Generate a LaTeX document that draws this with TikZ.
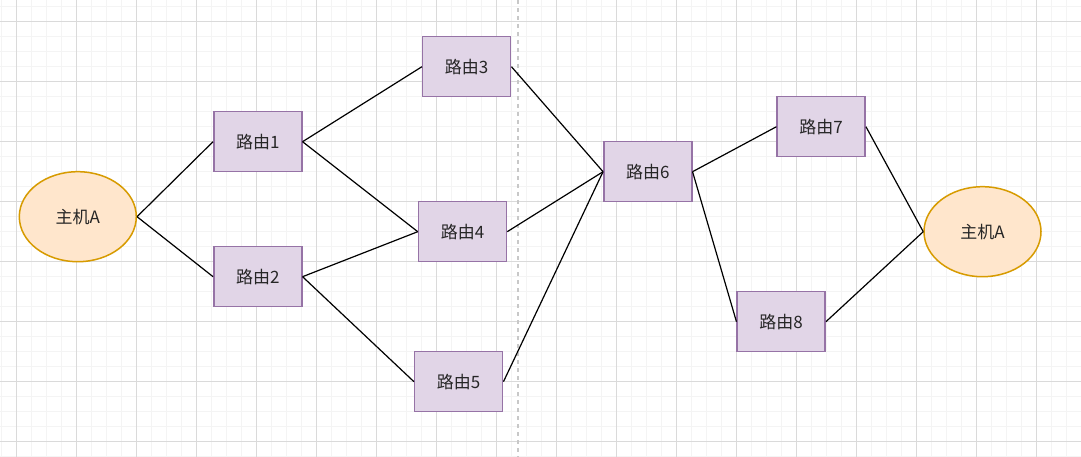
\documentclass[tikz,border=0pt]{standalone}
\usepackage{fontspec}
\newfontfamily\cjk{Noto Sans CJK SC}
\usetikzlibrary{shapes.geometric}
\definecolor{routerfill}{HTML}{E1D5E7}
\definecolor{routerline}{HTML}{9673A6}
\definecolor{hostfill}{HTML}{FFE6CC}
\definecolor{hostline}{HTML}{D79B00}
\definecolor{minorgrid}{HTML}{F4F4F4}
\definecolor{majorgrid}{HTML}{DADADA}
\definecolor{splitline}{HTML}{C8C8C8}
\tikzset{
  router/.style={rectangle,draw=routerline,fill=routerfill,line width=1.5pt,
    minimum width=88pt,minimum height=60pt,inner sep=0pt},
  host/.style={ellipse,draw=hostline,fill=hostfill,line width=1.5pt,
    minimum width=117pt,minimum height=90pt,inner sep=0pt},
  link/.style={black,line width=1.2pt}
}
\begin{document}
\begin{tikzpicture}[x=1pt,y=-1pt,every node/.style={font=\cjk\fontsize{17}{19}\selectfont,text=black!85}]
\useasboundingbox[fill=white] (0,0) rectangle (1081,457);
% background grid
\begin{scope}
\clip (0,0) rectangle (1081,457);
\foreach \i in {0,...,72} \draw[minorgrid,line width=1pt] ({1.7+15*\i},0) -- ({1.7+15*\i},457);
\foreach \j in {0,...,30} \draw[minorgrid,line width=1pt] (0,{6.7+15*\j}) -- (1081,{6.7+15*\j});
\foreach \i in {0,...,17} \draw[majorgrid,line width=1pt] ({16.7+60*\i},0) -- ({16.7+60*\i},457);
\foreach \j in {0,...,7} \draw[majorgrid,line width=1pt] (0,{21.7+60*\j}) -- (1081,{21.7+60*\j});
\end{scope}
\coordinate (splittop) at (518,0);
\coordinate (splitbot) at (518,457);
\draw[splitline,line width=1.5pt,dash pattern=on 4pt off 4pt] (splittop) -- (splitbot);
% hosts and routers
\node[host] (hostA) at (77.8,216.7) {主机A};
\node[router] (r1) at (257.8,141.7) {路由1};
\node[router] (r2) at (257.8,276.7) {路由2};
\node[router] (r3) at (466.7,66.7) {路由3};
\node[router] (r4) at (462.5,231.7) {路由4};
\node[router] (r5) at (458.7,381.7) {路由5};
\node[router] (r6) at (647.8,171.7) {路由6};
\node[router] (r7) at (821.2,126.7) {路由7};
\node[router] (r8) at (781.2,321.7) {路由8};
\node[host] (hostB) at (982.5,231.7) {主机A};
% links
\draw[link] (hostA.east) -- (r1.west);
\draw[link] (hostA.east) -- (r2.west);
\draw[link] (r1.east) -- (r3.west);
\draw[link] (r1.east) -- (r4.west);
\draw[link] (r2.east) -- (r4.west);
\draw[link] (r2.east) -- (r5.west);
\draw[link] (r3.east) -- (r6.west);
\draw[link] (r4.east) -- (r6.west);
\draw[link] (r5.east) -- (r6.west);
\draw[link] (r6.east) -- (r7.west);
\draw[link] (r6.east) -- (r8.west);
\draw[link] (r7.east) -- (hostB.west);
\draw[link] (r8.east) -- (hostB.west);
\end{tikzpicture}
\end{document}
